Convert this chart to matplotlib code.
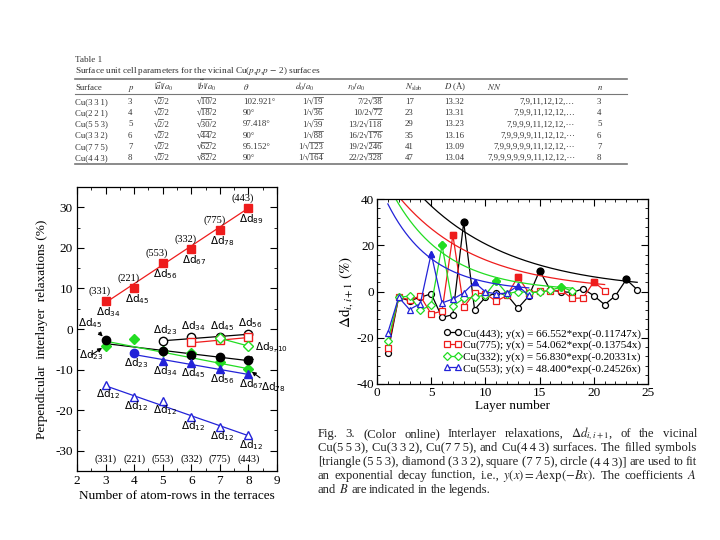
import numpy as np
import matplotlib
matplotlib.use('Agg')
import matplotlib.pyplot as plt
from matplotlib.lines import Line2D
from matplotlib.ticker import MultipleLocator

plt.rcParams['font.family'] = ['Liberation Serif', 'DejaVu Serif']
plt.rcParams['mathtext.fontset'] = 'stix'
plt.rcParams['axes.unicode_minus'] = False
plt.rcParams['xtick.direction'] = 'in'
plt.rcParams['ytick.direction'] = 'in'
plt.rcParams['xtick.top'] = True
plt.rcParams['ytick.right'] = True

RED = '#ee1c1c'
GREEN = '#22dd22'
BLUE = '#2323d8'
BLACK = 'black'
TH = '\u2009'  # thin space used between the Miller indices

# ---- Table 1 ----
surfaces = ['Cu(331)', 'Cu(221)', 'Cu(553)', 'Cu(332)', 'Cu(775)', 'Cu(443)']
p_vals = ['3', '4', '5', '6', '7', '8']
a_rad = ['2', '2', '2', '2', '2', '2']
b_rad = ['10', '18', '30', '44', '62', '82']
theta_vals = ['102.921°', '90°', '97.418°', '90°', '95.152°', '90°']
d0_rad = ['19', '36', '39', '88', '123', '164']
r0_num = ['7', '10', '13', '16', '19', '22']
r0_rad = ['38', '72', '118', '176', '246', '328']
nslab_vals = ['17', '23', '29', '35', '41', '47']
D_vals = ['13.32', '13.31', '13.23', '13.16', '13.09', '13.04']
nn_vals = ['7,9,11,12,12,…', '7,9,9,11,12,12,…', '7,9,9,9,11,12,12,···',
           '7,9,9,9,9,11,12,12,···', '7,9,9,9,9,9,11,12,12,···',
           '7,9,9,9,9,9,9,11,12,12,···']
n_vals = ['3', '4', '5', '6', '7', '8']
header = ['Surface', '$p$', r'$|\vec{a}|/a_0$', r'$|\vec{b}|/a_0$', r'$\theta$',
          '$d_0/a_0$', '$r_0/a_0$', r'$N_{\mathrm{slab}}$', '$D$ (Å)', '$NN$', '$n$']

# ---- left panel: relaxations vs terrace width ----
rows_x = [3, 4, 5, 6, 7, 8]
tags = ['(331)', '(221)', '(553)', '(332)', '(775)', '(443)']
red_y = [6.8, 10.0, 16.2, 19.8, 24.4, 29.8]
red_sub = ['34', '45', '56', '67', '78', '89']
blk_x = [3, 5, 6, 7, 8]
blk_y = [-2.6, -5.5, -6.4, -7.0, -7.7]
grn_x = [3, 4, 5, 6, 7, 8]
grn_y = [-4.1, -2.4, -5.3, -6.0, -8.1, -9.9]
blu_circ_x = [4]
blu_circ_y = [-6.0]
blu_x = [5, 6, 7, 8]
blu_y = [-7.9, -8.3, -9.8, -11.2]
blu_sub_x = [4, 5, 6, 7, 8]
blu_sub_y = [-6.0, -7.9, -8.3, -9.8, -11.2]
blu_sub = ['23', '34', '45', '56', '67']
oblk_x = [5, 6, 7, 8]
oblk_y = [-3.0, -1.9, -1.9, -1.3]
ored_x = [6, 7, 8]
ored_y = [-3.3, -2.8, -2.0]
ogrn_x = [7, 8]
ogrn_y = [-2.3, -4.2]
open_sub = ['23', '34', '45', '56']
d12_y = [-13.8, -16.7, -17.8, -21.6, -24.2, -26.2]
# fitted straight lines (end points)
fit_red = ([3, 8], [6.5, 29.8])
fit_blk = ([3, 8], [-3.6, -7.8])
fit_grn = ([3, 8], [-3.0, -9.8])
fit_blu = ([4, 8], [-6.3, -11.2])
fit_oblk = ([5, 8], [-2.9, -1.3])
fit_ored = ([6, 8], [-3.4, -2.1])
fit_ogrn = ([7, 8], [-2.3, -4.2])
fit_d12 = ([3, 8], [-14.0, -26.3])

# ---- right panel: layer profiles ----
lay_443 = list(range(1, 25))
d_443 = [-26.5, -2.5, -4.0, -2.5, -1.0, -11.2, -10.0, 30.0, -7.8, -2.5, -0.5, -1.5,
         -7.2, -2.0, 9.0, 0.5, 0.0, -0.5, 1.2, -1.8, -5.7, -1.8, 5.2, 0.8]
fill_443 = [8, 15, 23]
lay_775 = list(range(1, 22))
d_775 = [-24.5, -2.5, -3.5, -2.0, -9.7, -8.5, 24.4, -6.8, -0.6, -1.0, -4.2, -1.7,
         6.4, -0.5, 0.1, 0.3, 0.5, -3.0, -2.8, 4.1, 0.4]
fill_775 = [7, 13, 20]
lay_332 = list(range(1, 19))
d_332 = [-21.5, -2.5, -2.0, -8.0, -6.0, 20.0, -6.3, -3.0, -2.5, -1.5, 4.5, -1.0,
         0.0, -0.5, -0.3, 0.5, 2.0, 0.1]
fill_332 = [6, 11, 17]
lay_553 = list(range(1, 15))
d_553 = [-17.8, -2.5, -7.8, -5.2, 16.4, -4.9, -3.3, -0.6, 4.0, -0.2, -1.0, -0.7,
         2.5, -1.7]
fill_553 = [5, 9, 13]
fit_A = [66.552, 54.062, 56.830, 48.400]
fit_B = [0.11747, 0.13754, 0.20331, 0.24526]
names = ['Cu(443)', 'Cu(775)', 'Cu(332)', 'Cu(553)']

W, H = 720, 540
fig = plt.figure(figsize=(W / 100, H / 100), dpi=100)
fig.patch.set_facecolor('white')
renderer = fig.canvas.get_renderer()


def fx(px):
    return px / W


def fy(py):
    return 1 - py / H


def spaced(s):
    # "Cu(331)" -> "Cu(3 3 1)" with thin spaces, as typeset in the paper
    head, idx = s[:3], s[3:-1]
    return head + TH.join(idx) + ')'


def text_width(s, size):
    t = fig.text(0, 0, s, fontsize=size)
    w = t.get_window_extent(renderer).width
    t.remove()
    return w


# ---------------- table ----------------
TS = 6.3
tc = '#333333'


def root_cell(x, yb, pre, rad, post, ha='left'):
    # plain-text root with a drawn vinculum (keeps the row height compact)
    full = pre + '√' + rad + post
    fig.text(fx(x), fy(yb), full, fontsize=TS, color=tc, ha=ha, va='baseline')
    w_full = text_width(full, TS)
    w_a = text_width(pre + '√', TS)
    w_b = text_width(pre + '√' + rad, TS)
    left = x if ha == 'left' else x - w_full
    ytop = yb - 0.80 * TS * 100 / 72
    fig.add_artist(Line2D([fx(left + w_a - 0.3), fx(left + w_b + 0.2)], [fy(ytop), fy(ytop)],
                          color=tc, lw=0.5))


fig.text(fx(75), fy(62), 'Table 1', fontsize=6.6, color=tc, va='baseline')
fig.text(fx(75), fy(73), r'Surface unit cell parameters for the vicinal Cu($p$,$p$,$p$ $-$ 2) surfaces',
         fontsize=6.7, color=tc, va='baseline')
for yy, lw in [(79, 1.2), (93.5, 0.8), (164, 1.2)]:
    fig.add_artist(Line2D([fx(75), fx(627)], [fy(yy), fy(yy)], color='#777777', lw=lw))

head_x = [75, 128, 154, 197, 243, 295, 347, 405, 444, 487, 597]
for hx, txt in zip(head_x, header):
    fig.text(fx(hx), fy(89.5), txt, fontsize=TS, color=tc, va='baseline')

plain_cols = [([spaced(s) for s in surfaces], 75, 'left'), (p_vals, 128, 'left'),
              (theta_vals, 243, 'left'), (nslab_vals, 405, 'left'), (D_vals, 444, 'left'),
              (nn_vals, 575, 'right'), (n_vals, 597, 'left')]
for col, cx, ha in plain_cols:
    for i, val in enumerate(col):
        fig.text(fx(cx), fy(104 + 11.2 * i), val, fontsize=TS, color=tc, ha=ha, va='baseline')
for i in range(len(surfaces)):
    yb = 104 + 11.2 * i
    root_cell(154, yb, '', a_rad[i], '/2')
    root_cell(197, yb, '', b_rad[i], '/2')
    root_cell(323, yb, '1/', d0_rad[i], '', ha='right')
    root_cell(382, yb, r0_num[i] + '/2', r0_rad[i], '', ha='right')

# ---------------- left panel ----------------
ax1 = fig.add_axes([fx(77), fy(471), 200 / W, 284 / H])
ax1.set_xlim(2, 9)
ax1.set_ylim(-35, 35)
ax1.xaxis.set_major_locator(MultipleLocator(1))
ax1.xaxis.set_minor_locator(MultipleLocator(0.5))
ax1.yaxis.set_major_locator(MultipleLocator(10))
ax1.yaxis.set_minor_locator(MultipleLocator(5))
ax1.tick_params(which='major', length=5, width=0.8, labelsize=9.5, pad=3)
ax1.tick_params(which='minor', length=2.5, width=0.6)
for s in ax1.spines.values():
    s.set_linewidth(0.9)

for (lx, ly), c in [(fit_red, RED), (fit_blk, BLACK), (fit_grn, GREEN), (fit_blu, BLUE),
                    (fit_oblk, BLACK), (fit_ored, RED), (fit_ogrn, GREEN), (fit_d12, BLUE)]:
    ax1.plot(lx, ly, color=c, lw=0.9, zorder=2)

MS = 6
ax1.plot(rows_x, red_y, ls='none', marker='s', ms=MS, color=RED, zorder=3)
ax1.plot(grn_x, grn_y, ls='none', marker='D', ms=4.6, color=GREEN, zorder=3)
ax1.plot(blk_x, blk_y, ls='none', marker='o', ms=MS, color=BLACK, zorder=3)
ax1.plot(blu_circ_x, blu_circ_y, ls='none', marker='o', ms=MS, color=BLUE, zorder=3)
ax1.plot(blu_x, blu_y, ls='none', marker='^', ms=MS, color=BLUE, zorder=3)
ax1.plot(oblk_x, oblk_y, ls='none', marker='o', ms=MS, mfc='white', mec=BLACK, mew=1, zorder=3)
ax1.plot(ored_x, ored_y, ls='none', marker='s', ms=5.5, mfc='white', mec=RED, mew=1, zorder=3)
ax1.plot(ogrn_x, ogrn_y, ls='none', marker='D', ms=4.6, mfc='white', mec=GREEN, mew=1, zorder=4)
ax1.plot(rows_x, d12_y, ls='none', marker='^', ms=MS, mfc='white', mec=BLUE, mew=1, zorder=3)

LS = 7.5
lab = dict(fontsize=LS, family='DejaVu Sans', math_fontfamily='dejavusans', ha='center', va='center')


def dd(sub):
    return r'$\Delta\mathrm{d}_{' + sub + '}$'


for x, y, t, s in zip(rows_x, red_y, tags, red_sub):
    ax1.text(x - 0.2, y + 2.4, t, fontsize=LS, ha='center', va='center')
    ax1.text(x + 0.1, y - 2.7, dd(s), **lab)
for x, y, s in zip(blu_sub_x, blu_sub_y, blu_sub):
    ax1.text(x + 0.08, y - 2.5, dd(s), **lab)
for x, y in zip(rows_x, d12_y):
    ax1.text(x + 0.08, y - 2.3, dd('12'), **lab)
for x, y, s in zip(oblk_x, oblk_y, open_sub):
    ax1.text(x + 0.08, y + 2.7, dd(s), **lab)
for x, t in zip(rows_x, tags):
    ax1.text(x, -32.2, t, fontsize=LS, ha='center', va='center')

arr = dict(arrowstyle='-|>', color='black', lw=0.8, mutation_scale=6, shrinkA=0, shrinkB=3)
ax1.annotate(dd('45'), xy=(blk_x[0], blk_y[0]), xytext=(2.45, 1.5), arrowprops=arr, **lab)
ax1.annotate(dd('23'), xy=(grn_x[0], grn_y[0]), xytext=(2.5, -6.4), arrowprops=arr, **lab)
ax1.annotate(dd('9,10'), xy=(blk_x[-1], blk_y[-1]), xytext=(8.8, -4.8), arrowprops=arr, **lab)
ax1.annotate(dd('78'), xy=(grn_x[-1], grn_y[-1]), xytext=(8.86, -14.4), arrowprops=arr, **lab)

ax1.set_xlabel('Number of atom-rows in the terraces', fontsize=9.5, labelpad=2)
ax1.set_ylabel('Perpendicular  interlayer  relaxations (%)', fontsize=9.5, labelpad=5)

# ---------------- right panel ----------------
ax2 = fig.add_axes([fx(377), fy(384), 271 / W, 185 / H])
ax2.set_xlim(0, 25)
ax2.set_ylim(-40, 40)
ax2.xaxis.set_major_locator(MultipleLocator(5))
ax2.xaxis.set_minor_locator(MultipleLocator(1))
ax2.yaxis.set_major_locator(MultipleLocator(20))
ax2.yaxis.set_minor_locator(MultipleLocator(4))
ax2.tick_params(which='major', length=5, width=0.8, labelsize=9.5, pad=2)
ax2.tick_params(which='minor', length=2.5, width=0.6)
for s in ax2.spines.values():
    s.set_linewidth(0.9)

profiles = [(lay_443, d_443, fill_443, 'o', BLACK),
            (lay_775, d_775, fill_775, 's', RED),
            (lay_332, d_332, fill_332, 'D', GREEN),
            (lay_553, d_553, fill_553, '^', BLUE)]
handles = []
for (lay, d, fill, m, c), A, B, nm in zip(profiles, fit_A, fit_B, names):
    ms = 3.6 if m == 'D' else 4.3
    h, = ax2.plot(lay, d, color=c, lw=0.9, marker=m, ms=ms, mfc='white', mec=c, mew=0.9,
                  label=f'{nm}; y(x) = {A:.3f}*exp(-{B:.5f}x)')
    handles.append(h)
    fy_vals = [d[lay.index(k)] for k in fill]
    ax2.plot(fill, fy_vals, ls='none', marker=m, ms=ms + 0.6, color=c)
    xx = np.linspace(1, lay[-1], 200)
    ax2.plot(xx, A * np.exp(-B * xx), color=c, lw=0.9)

ax2.legend(handles=handles, loc='lower right', bbox_to_anchor=(1.0, 0.02), frameon=False,
           numpoints=2, handlelength=1.6, handletextpad=0.2, labelspacing=0.15,
           fontsize=8, borderaxespad=0.2)
ax2.set_xlabel('Layer number', fontsize=9.5, labelpad=1)
ax2.set_ylabel(r'$\Delta\mathrm{d}_{i,i+1}$ $(\%)$', fontsize=11, labelpad=1)

# ---------------- caption (justified) ----------------
cap_lines = [
    ['Fig.', '3.', '(Color', 'online)', 'Interlayer', 'relaxations,', r'$\Delta d_{i,i+1}$,', 'of', 'the', 'vicinal'],
    [spaced('Cu(553)') + ',', spaced('Cu(332)') + ',', spaced('Cu(775)') + ',', 'and',
     spaced('Cu(443)'), 'surfaces.', 'The', 'filled', 'symbols'],
    ['[triangle', '(5' + TH + '5' + TH + '3),', 'diamond', '(3' + TH + '3' + TH + '2),', 'square',
     '(7' + TH + '7' + TH + '5),', 'circle', '(4' + TH + '4' + TH + '3)]', 'are', 'used', 'to', 'fit'],
    ['an', 'exponential', 'decay', 'function,', 'i.e.,', r'$y(x)=A\exp(-Bx)$.', 'The', 'coefficients', '$A$'],
    ['and', '$B$', 'are', 'indicated', 'in', 'the', 'legends.'],
]
cap_x0, cap_x1 = 318, 697
cap_y = [437, 451, 465, 479, 493]

# pick the font size so that the widest line just fits with normal word spacing
base = 8.0
need = []
for words in cap_lines[:-1]:
    need.append(sum(text_width(w, base) for w in words) + 2.3 * (len(words) - 1))
cap_size = base * (cap_x1 - cap_x0) / max(need)

for k, (words, yb) in enumerate(zip(cap_lines, cap_y)):
    widths = [text_width(w, cap_size) for w in words]
    if k < len(cap_lines) - 1:
        gap = (cap_x1 - cap_x0 - sum(widths)) / (len(words) - 1)
    else:
        gap = 2.3 * cap_size / base
    xpos = cap_x0
    for w, wdt in zip(words, widths):
        fig.text(fx(xpos), fy(yb), w, fontsize=cap_size, color='#222222', va='baseline')
        xpos += wdt + gap

fig.savefig('out.png', dpi=100, facecolor='white')
